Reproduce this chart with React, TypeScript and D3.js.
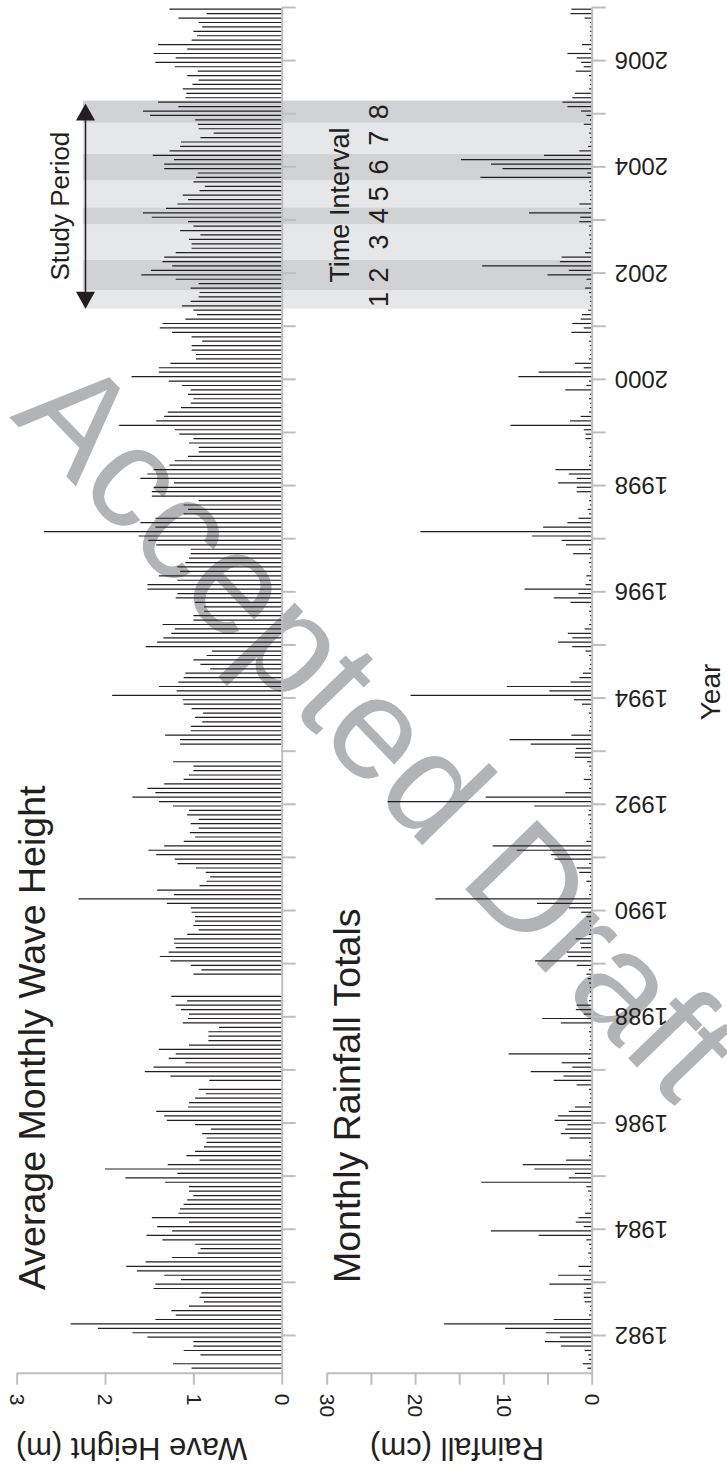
import React, { useRef, useEffect } from 'react';
import * as d3 from 'd3';

// monthly series start in May 1981 and end in Dec 2006, one row per year
const firstYear = 1981;
const firstMonth = 4; // 0 = Jan

// average monthly wave height (m), null = no record
const waveHeight: (number | null)[] = [
  1.02, 1.23, null, 0.92, 1.11, 1.0, 1.0, 1.52,
  1.69, 2.08, 2.39, 1.43, 1.2, 1.25, 1.05, 0.88, 0.93, 0.91, 1.45, 1.43,
  1.14, 1.33, 1.64, 1.76, 1.54, 1.24, 0.95, 0.92, 0.98, 1.35, 1.53, 1.24,
  1.41, 1.05, 1.47, 1.17, 1.15, 1.11, 1.07, 1.0, 1.05, 1.05, 1.32, 1.77,
  1.18, 2.0, 1.29, 0.93, 1.08, 0.98, 0.88, 0.85, 0.85, 0.9, 0.8, 0.98,
  1.3, 1.33, 1.42, 1.06, 1.05, 0.98, 0.86, 0.94, null, 0.82, 1.26, 1.55,
  1.45, 1.09, 1.28, 1.2, 1.39, 1.05, 0.83, 0.83, 0.83, 0.71, 1.12, 1.06,
  1.05, 1.14, 1.2, 1.07, 1.25, null, null, null, null, 1.0, 0.91, 1.03,
  1.26, 1.38, 1.28, 1.2, 1.22, 1.22, 1.07, 0.94, 1.0, 0.98, 0.98, 1.02,
  1.03, 1.3, 2.3, 1.22, 1.41, 0.93, 0.85, 0.81, 0.86, 0.97, 1.18, 1.21,
  1.42, 1.51, 1.33, 1.11, 0.98, 1.04, 0.94, 1.03, 0.94, 1.07, 1.05, 1.23,
  1.39, 1.69, 1.43, 1.52, 1.33, 1.11, 1.05, 1.0, 1.0, 1.23, null, null,
  null, 1.15, 1.15, 1.32, 1.03, 1.03, 0.9, 0.98, 0.89, 1.02, 1.11, 1.12,
  1.92, 1.19, 1.39, 1.17, 1.11, 1.09, 0.81, 0.92, 1.0, 0.85, 0.79, 1.54,
  1.41, 1.34, 1.25, 1.21, 1.35, 1.0, 1.0, 0.88, 0.88, 0.98, 1.2, 1.18,
  1.52, 1.52, 1.18, 1.39, 1.15, 1.18, 1.09, 1.05, 1.03, 1.03, 1.42, 1.51,
  1.62, 2.69, 1.43, 1.6, 1.43, 1.11, 1.06, 1.11, 0.94, 1.47, 1.47, 1.45,
  1.22, 1.6, 1.52, 1.45, 1.27, 1.21, 1.06, 0.94, 0.94, 1.05, 1.0, 1.16,
  1.21, 1.84, 1.42, 1.33, 1.29, 1.14, 1.03, 1.0, 1.06, 1.03, 1.13, 1.28,
  1.7, 1.39, 1.39, 1.26, 0.97, 0.97, 1.02, 1.02, 0.9, 1.02, 1.24, 1.38,
  1.35, 1.09, 0.96, 1.0, 1.13, 1.03, 0.94, 0.93, 1.03, 0.94, 1.2, 1.59,
  1.48, 1.24, 1.35, 1.33, 1.2, 1.02, 1.02, 1.05, 0.92, 1.15, 1.0, 1.06,
  1.47, 1.57, 1.31, 1.18, 1.06, 1.12, 0.93, 0.87, 1.0, 0.97, 0.95, 1.33,
  1.33, 1.22, 1.46, 1.27, 1.15, 1.14, 0.92, 0.77, 0.94, 0.95, 0.98, 1.49,
  1.57, 1.17, 1.4, 1.09, 1.08, 1.12, 1.01, 0.94, 1.07, 0.95, 1.21, 1.43,
  1.2, 1.45, 1.07, 1.4, 1.02, 0.96, 1.0, 0.9, 0.94, 1.17, 0.85, 1.27,
];

// monthly rainfall totals (cm)
const rainfall: number[] = [
  0.5, 1.0, 0.3, 0.4, 0.8, 3.5, 5.3, 3.6,
  5.2, 9.8, 16.7, 4.3, 0.3, 0.2, 0.2, 0.8, 0.9, 0.9, 0.6, 4.8,
  0.9, 3.8, 0.3, 1.5, 0.2, 0.2, 0.4, 0.2, 0.3, 0.6, 6.0, 11.4,
  0.9, 1.8, 1.5, 0.75, 0.2, 0.2, 0.3, 0.2, 0.4, 0.6, 12.5, 2.6,
  1.9, 6.5, 7.8, 2.9, 0.3, 0.2, 0.2, 0.3, 2.5, 3.5, 3.0, 2.75,
  4.2, 3.8, 2.6, 1.9, 0.3, 0.2, 0.2, 0.3, 1.7, 4.3, 3.2, 6.9,
  2.2, 3.4, 0.4, 9.4, 0.3, 0.2, 0.2, 0.2, 0.3, 0.2, 3.5, 5.6,
  0.9, 1.8, 1.7, 0.3, 0.2, 0.2, 0.2, 0.3, 0.45, 0.6, 0.3, 1.7,
  6.4, 2.7, 2.8, 1.2, 1.3, 1.8, 0.3, 0.2, 0.2, 0.3, 0.6, 1.2,
  2.6, 6.2, 17.7, 0.3, 0.2, 0.2, 0.6, 0.2, 1.4, 1.7, 0.3, 4.2,
  4.6, 8.5, 11.2, 0.6, 0.2, 0.2, 0.2, 0.3, 0.2, 0.4, 0.3, 6.5,
  23.1, 12.0, 3.0, 0.3, 0.2, 0.9, 0.2, 0.2, 0.3, 0.5, 1.9, 1.9,
  1.8, 6.9, 9.3, 2.3, 0.3, 0.2, 0.2, 0.2, 0.3, 0.2, 1.1, 2.0,
  20.5, 4.8, 9.6, 2.4, 1.4, 1.0, 0.3, 0.2, 0.2, 0.3, 0.7, 2.2,
  3.8, 2.2, 2.7, 0.8, 0.3, 0.2, 0.2, 0.3, 0.2, 2.4, 4.3, 1.5,
  7.6, 0.7, 0.3, 0.6, 0.2, 0.2, 0.3, 0.2, 2.1, 0.3, 2.9, 3.4,
  6.75, 19.4, 5.5, 2.75, 1.5, 0.3, 0.45, 0.2, 0.3, 0.2, 1.7, 1.7,
  3.8, 1.7, 2.6, 4.1, 0.3, 0.2, 0.3, 0.2, 0.3, 0.2, 0.7, 0.7,
  0.9, 9.2, 2.45, 1.25, 0.3, 0.2, 0.2, 0.3, 0.2, 3.0, 0.6, 0.3,
  8.3, 6.0, 0.9, 1.9, 0.3, 0.2, 0.2, 0.2, 0.3, 0.2, 2.3, 0.9,
  2.2, 1.25, 1.1, 0.4, 0.2, 0.2, 0.2, 0.3, 0.75, 0.2, 0.6, 5.0,
  2.6, 12.4, 3.6, 3.4, 0.75, 0.3, 0.2, 0.2, 0.3, 0.2, 0.3, 1.4,
  1.3, 7.1, 0.3, 1.4, 0.2, 0.2, 0.3, 0.2, 0.3, 12.6, 0.5, 10.1,
  11.4, 14.8, 5.4, 1.4, 0.4, 0.2, 0.2, 0.3, 0.2, 0.9, 0.2, 0.6,
  1.2, 2.75, 3.3, 2.2, 1.9, 0.3, 0.2, 0.2, 0.3, 1.8, 0.9, 1.2,
  1.7, 2.75, 0.3, 1.1, 0.2, 0.2, 0.2, 0.2, 0.2, 0.8, 2.4, 2.3,
];

// study period time intervals (decimal years)
const intervalEdges = [2001.32, 2001.67, 2002.24, 2002.91, 2003.23, 2003.74, 2004.24, 2004.82, 2005.24];
const intervalLabels = ['1', '2', '3', '4', '5', '6', '7', '8'];

const yearTicks = d3.range(1982, 2008);
const waveTicks = [0, 1, 2, 3];
const rainTicks = [0, 5, 10, 15, 20, 25, 30];
const rainLabels = [0, 10, 20, 30];

const FONT = '"Liberation Sans", Arial, Helvetica, sans-serif';
const INK = '#231f20';
const AXIS = '#bcbec0';

const App = () => {
  const chartRef = useRef<SVGSVGElement>(null);

  useEffect(() => {
    const width = 727;
    const height = 1475;

    //clear previous chart
    const svg = d3.select(chartRef.current);
    svg.selectAll('*').remove();
    svg.attr('width', width).attr('height', height).style('font-family', FONT);

    //scales: time runs up the page, values grow to the left
    const y = d3.scaleLinear().domain([1981.29, 2007]).range([1372.7, 7]);
    const xWave = d3.scaleLinear().domain([0, 3]).range([281.7, 16.7]);
    const xRain = d3.scaleLinear().domain([0, 30]).range([591.7, 326.7]);
    const monthDate = (i: number) => firstYear + (firstMonth + i + 0.5) / 12;

    //study period bands
    svg.append('g')
      .selectAll('rect')
      .data(d3.pairs(intervalEdges))
      .join('rect')
      .attr('x', 83)
      .attr('width', xRain(0) - 83)
      .attr('y', d => y(d[1]))
      .attr('height', d => y(d[0]) - y(d[1]))
      .attr('fill', (d, i) => (i % 2 ? '#d1d2d4' : '#e6e7e8'));

    //watermark
    svg.append('text')
      .attr('transform', 'translate(9,417) rotate(46)')
      .attr('font-size', 145)
      .attr('fill', '#b1b3b5')
      .text('Accepted Draft');

    //bars
    const drawBars = (values: (number | null)[], x: d3.ScaleLinear<number, number>) => {
      const rows = values
        .map((v, i) => ({ v, t: monthDate(i) }))
        .filter(d => d.v != null) as { v: number; t: number }[];
      svg.append('g')
        .selectAll('line')
        .data(rows)
        .join('line')
        .attr('x1', x(0))
        .attr('x2', d => x(d.v))
        .attr('y1', d => y(d.t))
        .attr('y2', d => y(d.t))
        .attr('stroke', INK)
        .attr('stroke-width', 1.2);
    };
    drawBars(waveHeight, xWave);
    drawBars(rainfall, xRain);

    //year axes
    const yearAxis = (x0: number, withLabels: boolean) => {
      const g = svg.append('g')
        .attr('transform', `translate(${x0},0)`)
        .call(
          d3.axisRight(y)
            .tickValues(yearTicks)
            .tickSize(14)
            .tickSizeOuter(0)
            .tickFormat(d => (withLabels && +d % 2 === 0 && +d < 2007 ? String(d) : ''))
        )
        .attr('font-family', FONT)
        .attr('font-size', 24);
      g.select('.domain').attr('stroke', AXIS).attr('stroke-width', 2);
      g.selectAll('.tick line').attr('stroke', AXIS).attr('stroke-width', 2);
      g.selectAll('.tick text')
        .attr('x', 0)
        .attr('dy', '0.35em')
        .attr('transform', 'translate(23,0) rotate(180)')
        .attr('text-anchor', 'end')
        .attr('fill', INK);
    };
    yearAxis(xWave(0), false);
    yearAxis(xRain(0), true);

    //value axes
    const valueAxis = (x: d3.ScaleLinear<number, number>, ticks: number[], labels: number[]) => {
      const g = svg.append('g')
        .attr('transform', `translate(0,${y.range()[0]})`)
        .call(
          d3.axisBottom(x)
            .tickValues(ticks)
            .tickSize(12)
            .tickSizeOuter(0)
            .tickFormat(d => (labels.includes(+d) ? String(d) : ''))
        )
        .attr('font-family', FONT)
        .attr('font-size', 21);
      g.select('.domain').attr('stroke', AXIS).attr('stroke-width', 2);
      g.selectAll('.tick line').attr('stroke', AXIS).attr('stroke-width', 2);
      g.selectAll('.tick text')
        .attr('y', 0)
        .attr('dy', '0.35em')
        .attr('transform', 'translate(0,21) rotate(90)')
        .attr('text-anchor', 'start')
        .attr('fill', INK);
    };
    valueAxis(xWave, waveTicks, waveTicks);
    valueAxis(xRain, rainTicks, rainLabels);

    //titles and axis labels
    const label = (txt: string, x: number, yy: number, angle: number, size: number, anchor: string) => {
      svg.append('text')
        .attr('transform', `translate(${x},${yy}) rotate(${angle})`)
        .attr('text-anchor', anchor)
        .attr('font-size', size)
        .attr('fill', INK)
        .text(txt);
    };
    label('Average Monthly Wave Height', 45, 1290, -90, 37.5, 'start');
    label('Monthly Rainfall Totals', 360, 1283, -90, 37.5, 'start');
    label('Wave Height (m)', 131.5, 1438, 180, 31, 'middle');
    label('Rainfall (cm)', 457, 1438, 180, 31, 'middle');
    label('Year', 720, 692, -90, 28, 'middle');

    //study period arrow
    const top = y(intervalEdges[intervalEdges.length - 1]) + 3;
    const bottom = y(intervalEdges[0]);
    const ax = 85.5;
    svg.append('line')
      .attr('x1', ax).attr('x2', ax)
      .attr('y1', top + 10).attr('y2', bottom - 10)
      .attr('stroke', INK).attr('stroke-width', 1.5);
    svg.append('path')
      .attr('d', `M${ax},${top}L${ax + 9.5},${top + 17}L${ax - 9.5},${top + 17}Z`)
      .attr('fill', INK);
    svg.append('path')
      .attr('d', `M${ax},${bottom}L${ax + 9.5},${bottom - 17}L${ax - 9.5},${bottom - 17}Z`)
      .attr('fill', INK);
    const mid = (top + bottom) / 2;
    label('Study Period', 68.6, mid, -90, 26, 'middle');
    label('Time Interval', 349, mid - 1, -90, 27, 'middle');

    //interval numbers
    svg.append('g')
      .selectAll('text')
      .data(d3.pairs(intervalEdges))
      .join('text')
      .attr('transform', d => `translate(387.5,${(y(d[0]) + y(d[1])) / 2}) rotate(-90)`)
      .attr('text-anchor', 'middle')
      .attr('font-size', 27)
      .attr('fill', INK)
      .text((d, i) => intervalLabels[i]);
  }, []);

  return (
    <svg
      ref={chartRef}
      style={{ position: 'absolute', left: 0, top: 0, background: '#fff' }}
    ></svg>
  );
};

export default App;
